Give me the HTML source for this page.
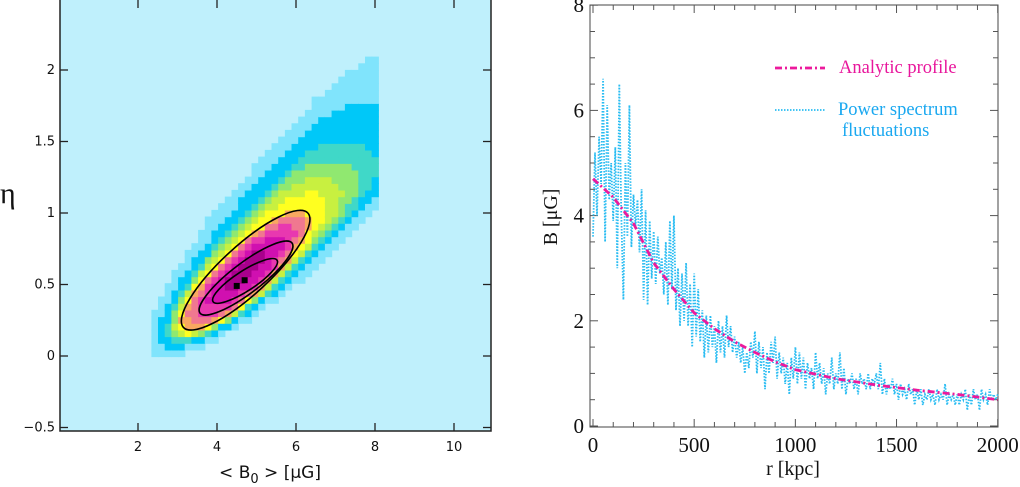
<!DOCTYPE html>
<html><head><meta charset="utf-8"><style>
body{margin:0;background:#fff;width:1020px;height:487px;overflow:hidden}
svg{display:block}
.sans{font-family:"DejaVu Sans","Liberation Sans",sans-serif}
.serif{font-family:"Liberation Serif",serif}
</style></head><body>
<svg id="s" width="1020" height="487" xmlns="http://www.w3.org/2000/svg">
<g id="left"></g>
<g id="right"></g>
</svg>
<script>
// ---------- Left panel data ----------
const leftXTicks=[2,4,6,8,10];
const leftYTicks=[-0.5,0,0.5,1,1.5,2];
const leftYTickLabels=["\u22120.5","0","0.5","1","1.5","2"];
const contourTip1B=[3.15,3.57,3.9];
const contourTip1Eta=[0.2,0.3,0.38];
const contourTip2B=[6.3,5.9,5.52];
const contourTip2Eta=[1.0,0.79,0.67];
const contourHalfWidthPx=[24,15,10];
const edgeTipLowB=[2.3];const edgeTipLowEta=[0.05];
const edgeMaxB=[8.07];const edgeMaxEta=[2.05];
const bestB=[4.5,4.7];const bestEta=[0.49,0.53];
const levels=[0.35,0.6,0.78,0.9,1.0,1.12,1.22,1.33,1.45,1.7,2.0];
const levelColors=["#a8008c","#d010b0","#e838b0","#f07890","#f8a860","#ffff20","#c8f040","#90e870","#40d8c8","#00c8f8","#80e4fc"];
// ---------- Right panel data ----------
const rightXTicks=[0,500,1000,1500,2000];
const rightYTicks=[0,2,4,6,8];
const profR=[0,100,200,300,400,500,600,700,800,900,1000,1200,1400,1600,1800,2000];
const profB=[4.7,4.35,3.85,3.1,2.6,2.15,1.85,1.6,1.4,1.22,1.07,0.9,0.78,0.68,0.6,0.5];
const flucStep=10;
const flucB=[3.6,5.2,4.0,5.5,4.6,6.6,3.5,6.1,4.3,5.0,3.9,5.3,3.0,6.5,4.0,2.4,5.0,3.6,6.1,3.4,4.4,
3.8,4.3,3.3,4.5,2.4,4.1,2.3,3.9,2.8,3.7,2.7,3.6,2.9,3.2,2.5,3.5,2.3,3.9,2.6,4.0,
2.2,3.0,1.9,2.9,2.0,3.1,1.9,2.7,1.5,2.9,1.7,2.6,1.6,2.2,1.3,2.1,1.4,2.1,1.5,1.9,
1.2,2.0,1.4,1.9,1.3,2.1,1.5,1.9,1.4,1.7,1.3,1.6,1.2,1.5,1.0,1.4,1.1,1.6,1.3,1.8,
1.0,1.6,1.1,1.5,0.7,1.4,1.0,1.6,1.2,1.7,0.9,1.4,1.0,1.3,0.8,1.2,0.6,1.3,0.9,1.5,
0.8,1.4,0.9,1.3,0.7,1.2,0.9,1.1,0.7,1.4,0.9,1.2,0.8,1.1,0.6,1.0,0.8,1.3,0.7,1.0,
0.8,1.4,0.7,1.1,0.6,0.9,0.8,1.0,0.7,0.9,0.6,1.0,0.8,0.9,0.7,1.0,0.7,0.9,0.8,1.0,
0.7,1.2,0.6,0.9,0.6,0.8,0.7,0.9,0.6,0.8,0.5,0.8,0.6,0.7,0.5,0.8,0.6,0.7,0.4,0.7,
0.5,0.7,0.4,0.6,0.5,0.7,0.5,0.6,0.4,0.7,0.5,0.6,0.5,0.8,0.4,0.6,0.5,0.6,0.4,0.6,
0.4,0.6,0.5,0.7,0.3,0.6,0.4,0.7,0.5,0.6,0.3,0.7,0.5,0.6,0.4,0.7,0.5,0.6,0.5,0.6];

const NS="http://www.w3.org/2000/svg";
function mk(parent,tag,attrs,text){const e=document.createElementNS(NS,tag);for(const k in attrs)e.setAttribute(k,attrs[k]);if(text!==undefined)e.textContent=text;parent.appendChild(e);return e;}

// ===== LEFT =====
const L=document.getElementById('left');
const lx=v=>59+39.5*v, ly=v=>356-143*v;
const LX0=60,LX1=491,LY0=0,LY1=431;
let bg=mk(L,'rect',{x:LX0,y:LY0,width:LX1-LX0,height:LY1-LY0,fill:'#bff0fc'});

const oX1=lx(contourTip1B[0]),oY1=ly(contourTip1Eta[0]),oX2=lx(contourTip2B[0]),oY2=ly(contourTip2Eta[0]);
const cX=(oX1+oX2)/2,cY=(oY1+oY2)/2,Ain=Math.hypot(oX2-oX1,oY2-oY1)/2,Win=contourHalfWidthPx[0];
const ang=Math.atan2(oY2-oY1,oX2-oX1),eA=[Math.cos(ang),Math.sin(ang)],eP=[Math.sin(ang),-Math.cos(ang)];
function toAP(X,Y){const dx=X-cX,dy=Y-cY;return [dx*eA[0]+dy*eA[1],dx*eP[0]+dy*eP[1]];}
const lowTip=toAP(lx(edgeTipLowB[0]),ly(edgeTipLowEta[0]));
const EaNeg=-lowTip[0];
function outerF(a,p){
 let ea,Ep;
 if(a<0){ea=Math.pow(-a/EaNeg,1.3);Ep=p>0?58:42;}
 else{ea=Math.pow(a/280,6);Ep=p>0?62+0.11*a:45;}
 return ea+Math.pow(p/Ep,2);}
function tval(B,eta){const [a,p]=toAP(lx(B),ly(eta));
 const ri=Math.hypot(a/Ain,p/Win);if(ri<=1)return ri;
 if(outerF(a,p)>=1)return 9;
 let lo=1,hi=20;for(let k=0;k<30;k++){const m=(lo+hi)/2;if(outerF(a*m,p*m)<1)lo=m;else hi=m;}
 const rIn=1/ri,rOut=lo;return 1+(1-rIn)/(rOut-rIn);}
const hm=mk(L,'g',{});

const dB=0.169,dE=0.0466;
for(let B=2.0;B+dB<=edgeMaxB[0]+0.02;B+=dB){for(let E=-0.05;E<edgeMaxEta[0];E+=dE){
 const t=tval(B+dB/2,E+dE/2);let c=null;
 for(let i=0;i<levels.length;i++){if(t<levels[i]){c=levelColors[i];break;}}
 if(!c)continue;
 const x0=lx(B),x1=lx(B+dB),y0=ly(E+dE),y1=ly(E);
 const r=mk(hm,'rect',{x:x0.toFixed(1),y:y0.toFixed(1),width:(x1-x0+0.6).toFixed(1),height:(y1-y0+0.6).toFixed(1),fill:c});
 }}
for(let i=0;i<contourTip1B.length;i++){
 const x1=lx(contourTip1B[i]),y1=ly(contourTip1Eta[i]),x2=lx(contourTip2B[i]),y2=ly(contourTip2Eta[i]);
 const cx=(x1+x2)/2,cy=(y1+y2)/2,a=Math.hypot(x2-x1,y2-y1)/2,an=Math.atan2(y2-y1,x2-x1)*180/Math.PI;
 const el=mk(L,'ellipse',{cx:cx,cy:cy,rx:a,ry:contourHalfWidthPx[i],fill:'none',stroke:'#000','stroke-width':1.6,transform:`rotate(${an} ${cx} ${cy})`});
 }
for(let i=0;i<bestB.length;i++){
 const m=mk(L,'rect',{x:lx(bestB[i])-3,y:ly(bestEta[i])-3,width:6,height:6,fill:'#000'});
 }
let fr=mk(L,'rect',{x:LX0,y:LY0-2,width:LX1-LX0,height:LY1-LY0+2,fill:'none',stroke:'#222','stroke-width':1.5});

leftXTicks.forEach(v=>{const x=lx(v);
 mk(L,'line',{x1:x,x2:x,y1:LY1,y2:LY1-8,stroke:'#222','stroke-width':1.3});
 mk(L,'line',{x1:x,x2:x,y1:0,y2:8,stroke:'#222','stroke-width':1.3});
 const t=mk(L,'text',{x:x,y:451,'text-anchor':'middle','font-size':13,class:'sans',fill:'#111'},String(v));
 });
leftYTicks.forEach((v,i)=>{const y=ly(v);
 mk(L,'line',{x1:LX0,x2:LX0+8,y1:y,y2:y,stroke:'#222','stroke-width':1.3});
 mk(L,'line',{x1:LX1,x2:LX1-8,y1:y,y2:y,stroke:'#222','stroke-width':1.3});
 const t=mk(L,'text',{x:55,y:y+4,'text-anchor':'end','font-size':13,class:'sans',fill:'#111'},leftYTickLabels[i]);
 });
let xt=mk(L,'text',{x:270,y:478,'text-anchor':'middle','font-size':17,class:'sans',fill:'#111'});

xt.innerHTML='&lt; B<tspan dy="5" font-size="13">0</tspan><tspan dy="-5"> &gt; [\u03bcG]</tspan>';
let yt=mk(L,'text',{x:0,y:203,'font-size':30,class:'serif',fill:'#111'},'\u03b7');


// ===== RIGHT =====
const R=document.getElementById('right');
const rx=v=>593+v*(404.7/2000), ry=v=>426-v*52.6;
const RX0=590,RX1=998,RY0=5,RY1=427;
let rf=mk(R,'rect',{x:RX0,y:RY0,width:RX1-RX0,height:RY1-RY0,fill:'#fff',stroke:'#444','stroke-width':1});

for(let v=0;v<=2000;v+=100){const x=rx(v);const len=v%500==0?8:5;
 mk(R,'line',{x1:x,x2:x,y1:RY1,y2:RY1-len,stroke:'#555'});mk(R,'line',{x1:x,x2:x,y1:RY0,y2:RY0+len,stroke:'#555'});}
for(let v=0;v<=8;v+=0.5){const y=ry(v);const len=v%2==0?8:5;
 mk(R,'line',{x1:RX0,x2:RX0+len,y1:y,y2:y,stroke:'#555'});mk(R,'line',{x1:RX1,x2:RX1-len,y1:y,y2:y,stroke:'#555'});}
rightXTicks.forEach(v=>{const t=mk(R,'text',{x:rx(v),y:452,'text-anchor':'middle','font-size':21,class:'serif',fill:'#111'},String(v));
 });
rightYTicks.forEach(v=>{const t=mk(R,'text',{x:584,y:ry(v)+7,'text-anchor':'end','font-size':21,class:'serif',fill:'#111'},String(v));
 });
let rxt=mk(R,'text',{x:793,y:475,'text-anchor':'middle','font-size':20,class:'serif',fill:'#111'},'r [kpc]');

let ryt=mk(R,'text',{x:0,y:0,'text-anchor':'middle','font-size':20,class:'serif',fill:'#111',transform:'translate(557 217) rotate(-90)'},'B [\u03bcG]');

let fp=flucB.map((b,i)=>(i?'L':'M')+rx(i*flucStep).toFixed(1)+' '+ry(b).toFixed(1)).join(' ');
let fl=mk(R,'path',{d:fp,fill:'none',stroke:'#28bcf2','stroke-width':1.8,'stroke-dasharray':'1.5 1.5'});

let ap=profR.map((r,i)=>(i?'L':'M')+rx(r).toFixed(1)+' '+ry(profB[i]).toFixed(1)).join(' ');
let al=mk(R,'path',{d:ap,fill:'none',stroke:'#ec1a9c','stroke-width':2.8,'stroke-dasharray':'7 3 2 3'});

let lg=mk(R,'g',{});
let l1=mk(lg,'line',{x1:775,x2:825,y1:68,y2:68,stroke:'#ec1a9c','stroke-width':2.8,'stroke-dasharray':'7 3 2 3'});

let t1=mk(lg,'text',{x:839,y:73,'font-size':18.5,class:'serif',fill:'#e8169c'},'Analytic profile');

let l2=mk(lg,'line',{x1:775,x2:825,y1:110,y2:110,stroke:'#28bcf2','stroke-width':1.8,'stroke-dasharray':'1.5 1.5'});

let t2=mk(lg,'text',{x:838,y:115,'font-size':18.5,class:'serif',fill:'#1aa8f0'},'Power spectrum');

let t3=mk(lg,'text',{x:842,y:136,'font-size':18.5,class:'serif',fill:'#1aa8f0'},'fluctuations');

</script>
</body></html>
